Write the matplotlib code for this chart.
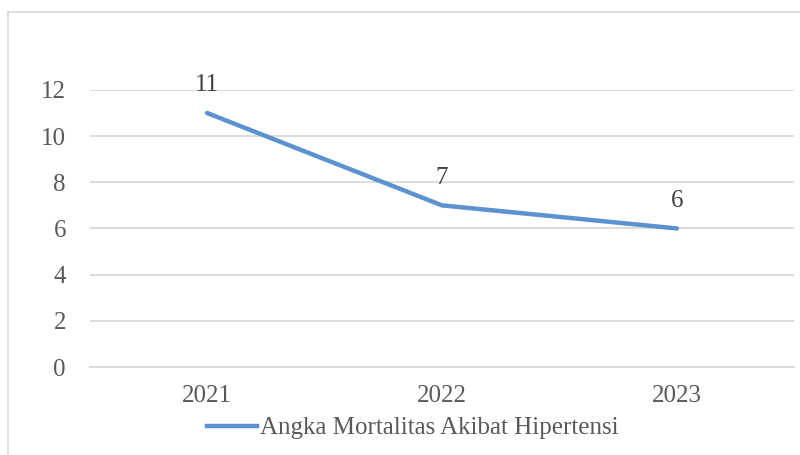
import matplotlib
matplotlib.use("Agg")
import matplotlib.pyplot as plt
from matplotlib.lines import Line2D

years = ["2021", "2022", "2023"]
values = [11, 7, 6]
yticks = [0, 2, 4, 6, 8, 10, 12]
series_name = "Angka Mortalitas Akibat Hipertensi"

plt.rcParams['font.family'] = ['Liberation Serif', 'DejaVu Serif']

fig = plt.figure(figsize=(8, 4.55), dpi=100)
ax = fig.add_axes([0.112, 0.1934, 0.881, 0.609])

x = list(range(len(years)))
line_color = '#5B92CF'
ax.plot(x, values, color=line_color, linewidth=3.2, solid_capstyle='round', zorder=3)
for xi, v in zip(x, values):
    ax.annotate(str(v), (xi, v), xytext=(0, 20), textcoords='offset points',
                ha='center', va='center', fontsize=18, color='#404040')

ax.set_xlim(-0.5, len(years) - 0.5)
ax.set_ylim(0, 12)
ax.set_yticks(yticks)
ax.set_yticklabels([str(t) for t in yticks])
ax.set_xticks(x)
ax.set_xticklabels(years)
ax.grid(axis='y', color='#D9D9D9', linewidth=1.3)
ax.set_axisbelow(True)
for s in ['top', 'right', 'left']:
    ax.spines[s].set_visible(False)
ax.spines['bottom'].set_color('#D9D9D9')
ax.spines['bottom'].set_linewidth(1.3)
ax.tick_params(axis='both', length=0, labelsize=18, labelcolor='#595959')
ax.tick_params(axis='y', pad=17)
ax.tick_params(axis='x', pad=13)

handle = Line2D([0], [0], color=line_color, linewidth=3.2)
fig.legend([handle], [series_name], loc='center', bbox_to_anchor=(0.516, 0.059),
           frameon=False, fontsize=18, handlelength=2.0, handletextpad=0.1,
           labelcolor='#595959')

# outer chart border
fig.add_artist(Line2D([8/800, 8/800], [0, 1 - 12/455], transform=fig.transFigure,
                      color='#D9D9D9', linewidth=1.2))
fig.add_artist(Line2D([8/800, 1], [1 - 12/455, 1 - 12/455], transform=fig.transFigure,
                      color='#D9D9D9', linewidth=1.2))

fig.savefig("out.png", dpi=100, facecolor='white')
